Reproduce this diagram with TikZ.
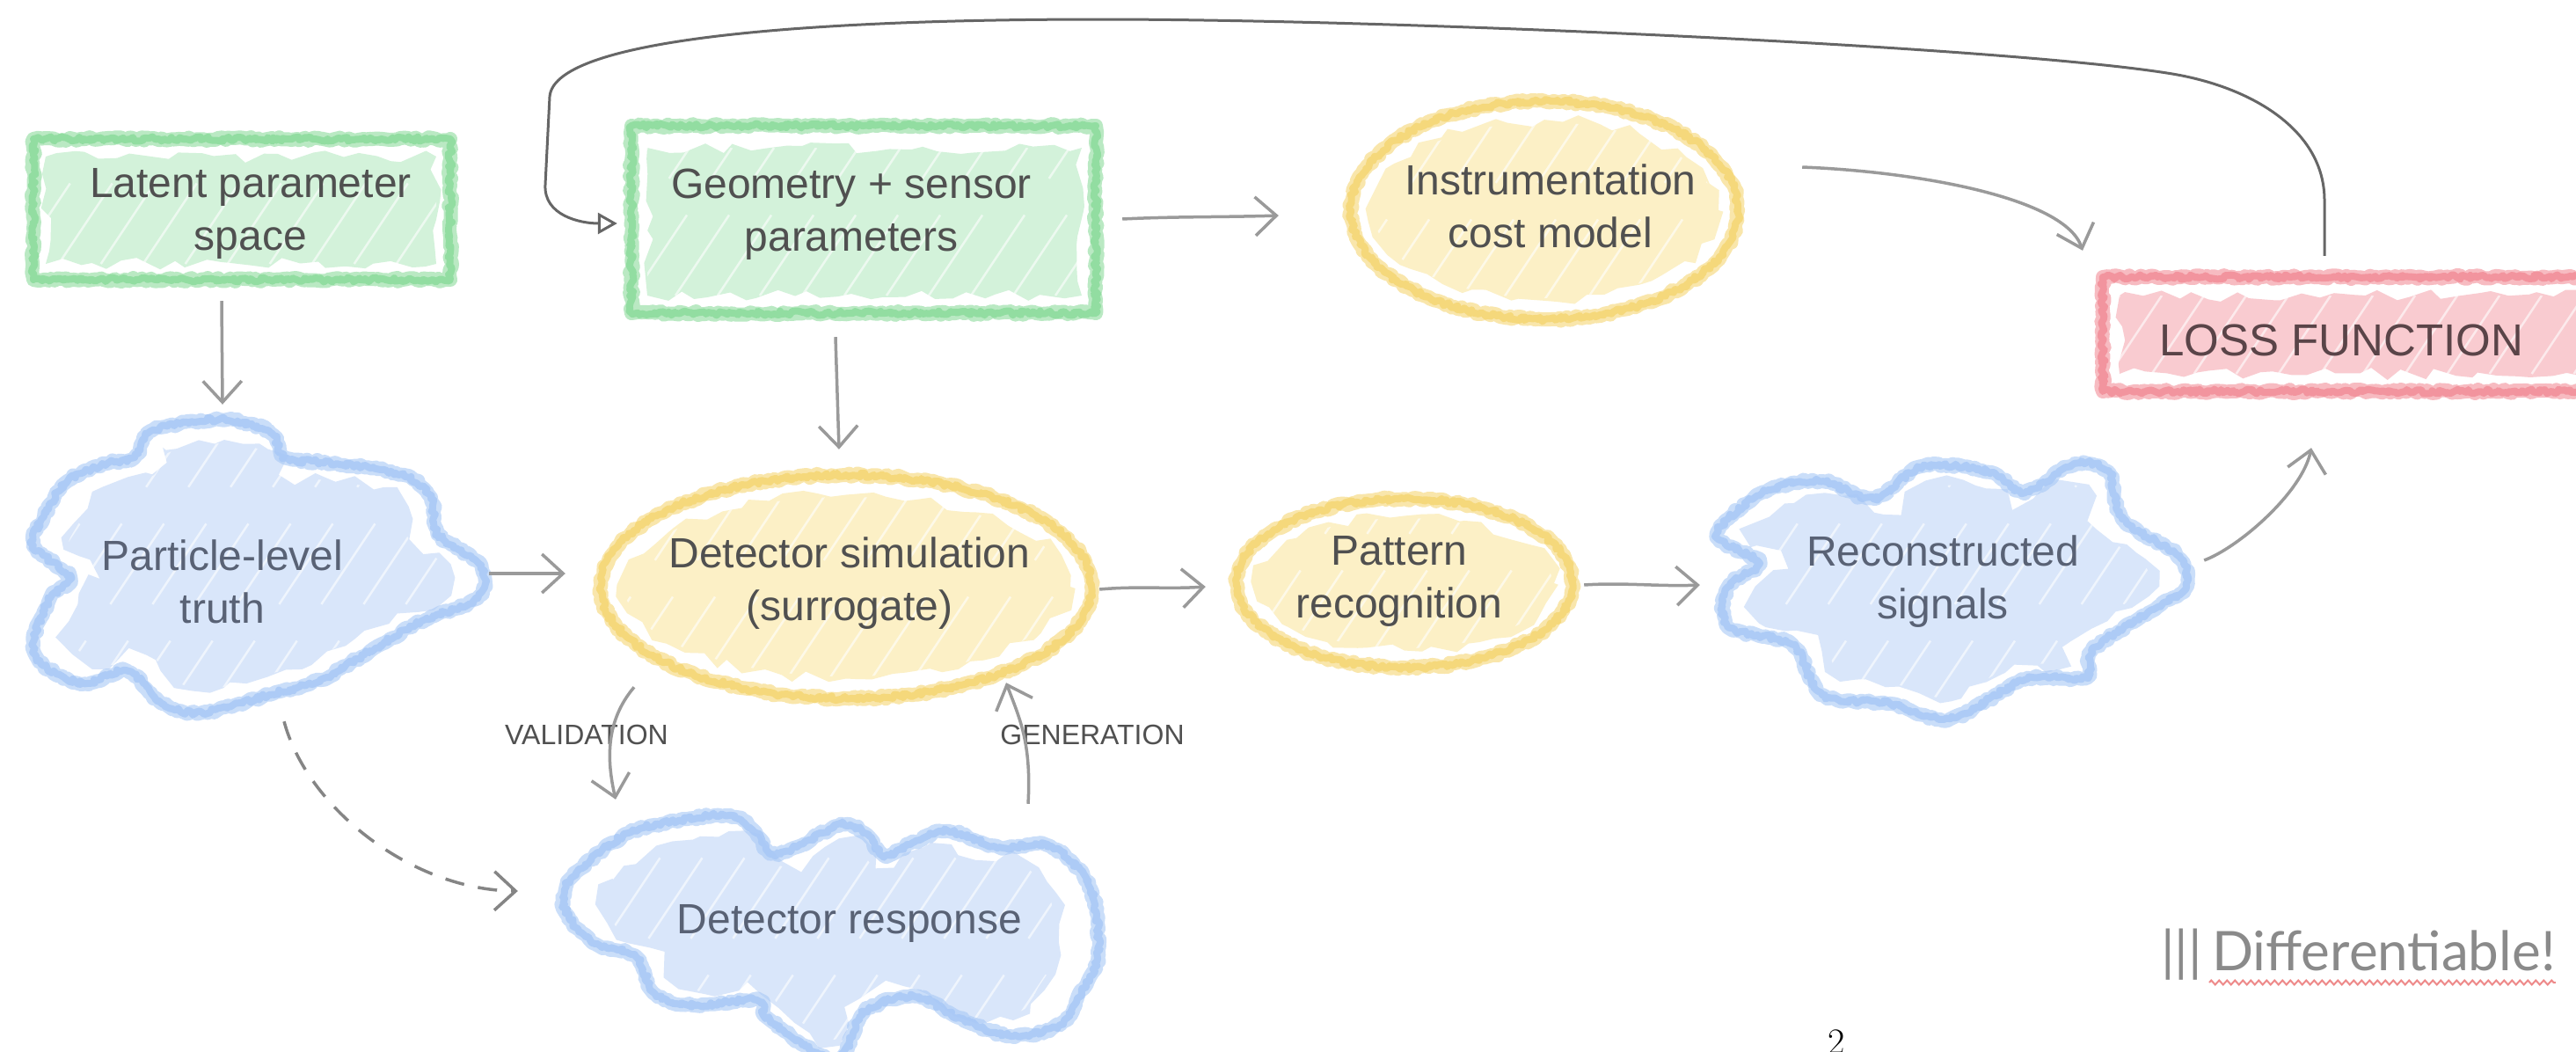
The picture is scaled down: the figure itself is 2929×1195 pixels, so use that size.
\documentclass[tikz,border=0pt]{standalone}
\usepackage{fontspec}
\newfontfamily\hsans{Liberation Sans}
\newfontfamily\latof{Lato}
\usetikzlibrary{arrows.meta,decorations.pathmorphing,decorations.pathreplacing,calc}
\definecolor{gline}{HTML}{8CDB9C}
\definecolor{gfill}{HTML}{D3F2DA}
\definecolor{yline}{HTML}{F5D673}
\definecolor{yfill}{HTML}{FCF0C6}
\definecolor{bline}{HTML}{A8C8F6}
\definecolor{bfill}{HTML}{D9E6FA}
\definecolor{redline}{HTML}{F28E98}
\definecolor{redfill}{HTML}{F9CBD0}
\definecolor{txt}{HTML}{505050}
\definecolor{btxt}{HTML}{596275}
\definecolor{losstxt}{HTML}{5A4448}
\definecolor{arrc}{HTML}{9A9A9A}
\definecolor{fbc}{HTML}{666666}
\definecolor{dashc}{HTML}{858585}
\definecolor{difftxt}{HTML}{8A8A8A}
\definecolor{wavyc}{HTML}{EE8A8A}
\newcommand\partcloud{plot[smooth cycle,tension=0.55] coordinates {(153,520) (172,490) (249,477) (306,490) (325,520) (383,527) (459,540) (490,567) (498,607) (547,643) (543,680) (478,707) (421,740) (364,773) (306,790) (230,810) (184,800) (145,763) (96,777) (50,757) (38,730) (57,680) (80,657) (38,620) (50,587) (77,547) (122,527)}}
\newcommand\reccloud{plot[smooth cycle,tension=0.55] coordinates {(2011,557) (2072,547) (2130,567) (2187,530) (2264,537) (2302,560) (2359,527) (2398,537) (2413,590) (2474,630) (2486,667) (2436,700) (2378,740) (2371,770) (2302,773) (2218,817) (2149,800) (2072,790) (2038,733) (1965,713) (1965,667) (2000,640) (1954,613) (1965,590)}}
\newcommand\respcloud{plot[smooth cycle,tension=0.55] coordinates {(640,1020) (657,990) (715,947) (772,933) (830,927) (860,947) (876,970) (906,963) (956,937) (983,947) (1006,973) (1040,957) (1078,945) (1136,963) (1194,962) (1240,1010) (1248,1090) (1225,1135) (1205,1165) (1150,1178) (1090,1157) (1040,1133) (983,1150) (950,1205) (876,1160) (860,1137) (791,1143) (745,1130) (722,1087) (677,1073) (650,1047)}}
\newcommand\hatchreg[4]{%
  \pgfmathsetmacro\hH{#4-#2}%
  \pgfmathsetmacro\hW{\hH/1.5}%
  \pgfmathtruncatemacro\hN{(#3-#1+\hW)/48}%
  \foreach \k in {0,...,\hN}{%
    \draw[hatchl] ({#1-\hW+\k*48},#4) -- ++(\hW,-\hH);
  }%
}
\begin{document}
\begin{tikzpicture}[x=1pt,y=-1pt,
  rfill/.style={decorate, decoration={random steps, segment length=18pt, amplitude=7pt}},
  rline/.style={line width=16pt, line join=round, line cap=round, opacity=.6, decorate, decoration={random steps, segment length=4pt, amplitude=2pt}},
  rlinetwo/.style={line width=8pt, line join=round, line cap=round, opacity=.85, decorate, decoration={random steps, segment length=3pt, amplitude=2.5pt}},
  hatchl/.style={white, line width=2.5pt, opacity=.6, dash pattern=on 110pt off 50pt},
  conn/.style={draw=arrc, line width=3.5pt, -{Straight Barb[length=24pt,width=44pt,line width=3.5pt]}},
  fbline/.style={draw=fbc, line width=3pt, -{Triangle[open,length=22pt,width=24pt,line width=3pt]}},
  lbl/.style={font=\hsans\fontsize{48}{60}\selectfont, text=txt, align=center, inner sep=0pt, draw=none, rectangle},
  blbl/.style={lbl, text=btxt},
  smalllbl/.style={font=\hsans\fontsize{32}{38}\selectfont, text=txt, inner sep=0pt}]
\useasboundingbox (0,0) rectangle (2929,1195);
\clip (0,0) rectangle (2929,1195);
\fill[white] (0,0) rectangle (2929,1195);
\pgfmathsetseed{42}
% ---- Latent parameter space box
\fill[gfill, rfill] (52,178) rectangle (496,300);
\begin{scope}\clip (52,178) rectangle (496,300); \hatchreg{52}{178}{496}{300} \end{scope}
\draw[gline, rline] (38,158) rectangle (512,318);
\draw[gline, rlinetwo] (38,158) rectangle (512,318);
% ---- Geometry box
\fill[gfill, rfill] (736,168) rectangle (1230,336);
\begin{scope}\clip (736,168) rectangle (1230,336); \hatchreg{736}{168}{1230}{336} \end{scope}
\draw[gline, rline] (718,143) rectangle (1246,356);
\draw[gline, rlinetwo] (718,143) rectangle (1246,356);
% ---- Instrumentation ellipse
\fill[yfill, rfill] (1756,239) ellipse [x radius=198pt, y radius=102pt];
\begin{scope}\clip (1756,239) ellipse [x radius=195pt, y radius=100pt]; \hatchreg{1556}{137}{1956}{341} \end{scope}
\draw[yline, rline] (1756,239) ellipse [x radius=220pt, y radius=124pt];
\draw[yline, rlinetwo] (1756,239) ellipse [x radius=220pt, y radius=124pt];
% ---- Loss box
\fill[redfill, rfill] (2410,336) rectangle (2960,425);
\begin{scope}\clip (2410,336) rectangle (2960,425); \hatchreg{2410}{336}{2960}{425} \end{scope}
\draw[redline, rline] (2391,315) rectangle (2985,445);
\draw[redline, rlinetwo] (2391,315) rectangle (2985,445);
% ---- Particle cloud
\fill[bfill, rfill, scale around={0.86:(292,645)}] \partcloud;
\begin{scope}\clip[scale around={0.84:(292,645)}] \partcloud; \hatchreg{30}{470}{560}{820} \end{scope}
\draw[bline, rline] \partcloud;
\draw[bline, rlinetwo] \partcloud;
% ---- Detector simulation ellipse
\fill[yfill, rfill] (962,667) ellipse [x radius=255pt, y radius=104pt];
\begin{scope}\clip (962,667) ellipse [x radius=252pt, y radius=102pt]; \hatchreg{700}{560}{1220}{770} \end{scope}
\draw[yline, rline] (962,667) ellipse [x radius=279pt, y radius=127pt];
\draw[yline, rlinetwo] (962,667) ellipse [x radius=279pt, y radius=127pt];
% ---- Pattern recognition ellipse
\fill[yfill, rfill] (1597,663) ellipse [x radius=170pt, y radius=76pt];
\begin{scope}\clip (1597,663) ellipse [x radius=168pt, y radius=74pt]; \hatchreg{1425}{585}{1770}{740} \end{scope}
\draw[yline, rline] (1597,663) ellipse [x radius=191pt, y radius=96pt];
\draw[yline, rlinetwo] (1597,663) ellipse [x radius=191pt, y radius=96pt];
% ---- Reconstructed cloud
\fill[bfill, rfill, scale around={0.86:(2220,670)}] \reccloud;
\begin{scope}\clip[scale around={0.84:(2220,670)}] \reccloud; \hatchreg{1950}{520}{2490}{820} \end{scope}
\draw[bline, rline] \reccloud;
\draw[bline, rlinetwo] \reccloud;
% ---- Detector response cloud
\fill[bfill, rfill, scale around={0.86:(945,1060)}] \respcloud;
\begin{scope}\clip[scale around={0.84:(945,1060)}] \respcloud; \hatchreg{640}{925}{1250}{1200} \end{scope}
\draw[bline, rline] \respcloud;
\draw[bline, rlinetwo] \respcloud;
% ---- Nodes
\node[lbl, minimum width=491pt, minimum height=183pt] (lat) at (285,243) {Latent parameter\\space};
\node[lbl, minimum width=544pt, minimum height=237pt] (geo) at (968,244) {Geometry + sensor\\parameters};
\node[lbl, minimum width=453pt, minimum height=262pt] (inst) at (1763,234) {Instrumentation\\cost model};
\node[lbl, minimum width=560pt, minimum height=155pt, text=losstxt, font=\hsans\fontsize{51}{58}\selectfont] (loss) at (2662,387) {LOSS FUNCTION};
\node[blbl, minimum width=523pt, minimum height=343pt] (part) at (253,661) {Particle-level\\truth};
\node[lbl, minimum width=572pt, minimum height=268pt] (dsim) at (966,663) {Detector simulation\\(surrogate)};
\node[lbl, minimum width=397pt, minimum height=205pt] (pat) at (1591,661) {Pattern\\recognition};
\node[blbl, minimum width=537pt, minimum height=298pt] (rec) at (2209,661) {Reconstructed\\signals};
\node[blbl, minimum width=605pt, minimum height=270pt] (resp) at (966,1050) {Detector response};
\node[smalllbl] (vlab) at (667,835) {VALIDATION};
\node[smalllbl] (glab) at (1242,835) {GENERATION};
\node[anchor=base west, inner sep=0pt, text=difftxt, font=\latof\fontsize{62}{62}\selectfont] (bars) at (2457,1103) {|||};
\node[anchor=base west, inner sep=0pt, text=difftxt, font=\latof\fontsize{62}{62}\selectfont] (diff) at (2515,1103) {Differentiable!};
\node[anchor=north, inner sep=0pt, font=\fontsize{42}{42}\selectfont] (pnum) at (2088,1171) {2};
% ---- Connectors
\draw[conn] ($(lat.south)+(-33,7.5)$) -- ($(part.north)+(0,-29.5)$);
\draw[conn] ($(geo.south)+(-18,20.5)$) -- ($(dsim.north)+(-12,-18)$);
\draw[conn] ($(part.east)+(41.5,-9)$) -- ($(dsim.west)+(-37,-11)$);
\draw[conn] ($(dsim.east)+(-2,7)$) .. controls +(45,-4) and +(-45,3) .. ($(pat.west)+(-21.5,6)$);
\draw[conn] ($(pat.east)+(11.5,4)$) .. controls +(45,-3) and +(-45,2) .. ($(rec.west)+(-7.5,4)$);
\draw[conn] ($(rec.east)+(28.5,-24)$) .. controls +(40,-15) and +(-10,50) .. ($(loss.south)+(-34,44.5)$);
\draw[conn] ($(geo.east)+(36,5)$) .. controls +(60,-3) and +(-60,2) .. ($(inst.west)+(-82.5,11)$);
\draw[conn] ($(inst.east)+(59.5,-44)$) .. controls +(130,5) and +(-20,-60) .. ($(loss.north)+(-294,-24.5)$);
\draw[fbline] ($(loss.north)+(-19,-18.5)$) -- ++(0,-63) .. controls +(0,-80) and +(90,15) .. (2470,84) .. controls +(-180,-30) and +(350,0) .. (1250,22) .. controls +(-300,0) and +(5,-70) .. (625,110) -- (620,210) .. controls +(-2,35) and +(-42,0) .. ($(geo.west)+(6,10)$);
\draw[conn] ($(dsim.south)+(-245,-16)$) .. controls +(-33,39) and +(-10,-44) .. ($(resp.north)+(-266,-6)$);
\draw[conn] ($(resp.north)+(203,-1)$) .. controls +(4,-70) and +(15,40) .. ($(dsim.south)+(178,-21)$);
\draw[conn, draw=dashc, dash pattern=on 22pt off 16pt] ($(part.south)+(70,-12.5)$) .. controls +(27,100) and +(-119,-1) .. ($(resp.west)+(-74.5,-37)$);
\draw[wavyc, line width=2pt, decorate, decoration={zigzag, segment length=9pt, amplitude=2.5pt}] ($(diff.base west)+(-3,14)$) -- ($(diff.base east)+(0,14)$);
\end{tikzpicture}
\end{document}
